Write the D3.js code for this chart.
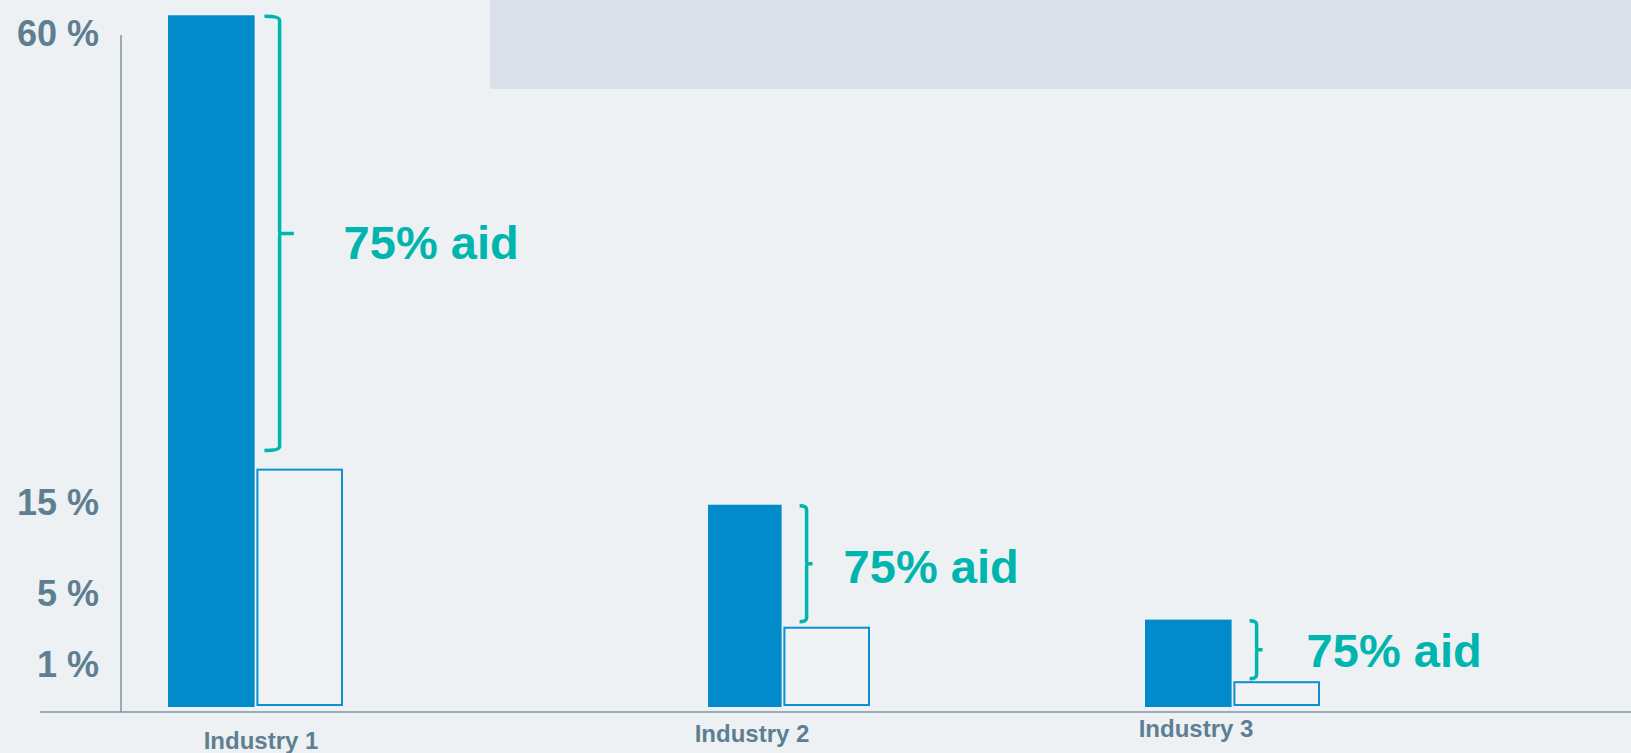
<!DOCTYPE html>
<html>
<head>
<meta charset="utf-8">
<script src="https://cdn.jsdelivr.net/npm/d3@7"></script>
<style>
  html, body { margin: 0; padding: 0; background: #edf1f4; overflow: hidden; }
  svg { display: block; font-family: "Liberation Sans", Arial, sans-serif; }
</style>
</head>
<body>
<svg width="1631" height="753"></svg>
<script>
// data
const categories = ["Industry 1", "Industry 2", "Industry 3"];
const series = ["without", "with"];
const withoutAid = [61.7, 14.7, 3.5];
const withAid = [18.2, 3.1, 0.6];
const aidLabels = ["75% aid", "75% aid", "75% aid"];
const tickValues = [1, 5, 15, 60];
const tickLabels = ["1 %", "5 %", "15 %", "60 %"];

const svg = d3.select("svg");

// grey box at the top right
svg.append("rect")
  .attr("x", 490).attr("y", 0)
  .attr("width", 1141).attr("height", 89)
  .attr("fill", "#dae1e8");

// the y axis is not linear: each tick sits on its own segment
const y = d3.scaleLinear()
  .domain([0, 1, 5, 15, 60])
  .range([707, 664, 593, 502, 33]);

// groups are not evenly spaced in the slide
const groupX = d3.scaleOrdinal(categories, [168, 695, 1145]);
const x1 = d3.scaleBand(series, [0, 175]).paddingInner(0.02);
const fullInset = d3.scaleOrdinal(categories, [0, 13, 0]);
const labelX = d3.scaleOrdinal(categories, [261, 752, 1196]);
const labelY = d3.scaleOrdinal(categories, [749, 742, 737]);
const aidDx = d3.scaleOrdinal(categories, [64, 37, 50]);

const rows = categories.map((c, i) => ({
  name: c, without: withoutAid[i], with: withAid[i], aid: aidLabels[i]
}));

// axes lines
svg.append("line")
  .attr("x1", 121).attr("x2", 121)
  .attr("y1", y(60) + 2).attr("y2", y(0) + 5)
  .attr("stroke", "#7d93a3").attr("stroke-width", 1.5);
svg.append("line")
  .attr("x1", 40).attr("x2", 1631)
  .attr("y1", y(0) + 5).attr("y2", y(0) + 5)
  .attr("stroke", "#7d93a3").attr("stroke-width", 1.5);

// tick labels
svg.append("g")
  .selectAll("text")
  .data(tickValues)
  .join("text")
  .attr("x", 99)
  .attr("y", (d) => y(d))
  .attr("dy", "0.36em")
  .attr("text-anchor", "end")
  .attr("font-size", 36)
  .attr("font-weight", "bold")
  .attr("fill", "#5e7f92")
  .text((d, i) => tickLabels[i]);

const group = svg.append("g")
  .selectAll("g")
  .data(rows)
  .join("g")
  .attr("transform", (d) => "translate(" + groupX(d.name) + ",0)");

// full bar
group.append("rect")
  .attr("x", (d) => x1("without") + fullInset(d.name))
  .attr("y", (d) => y(d.without))
  .attr("width", (d) => x1.bandwidth() - fullInset(d.name))
  .attr("height", (d) => y(0) - y(d.without))
  .attr("fill", "#028bcb");

// bar after aid
group.append("rect")
  .attr("x", x1("with") + 1)
  .attr("y", (d) => y(d.with) + 1)
  .attr("width", x1.bandwidth() - 2)
  .attr("height", (d) => y(0) - y(d.with) - 3)
  .attr("fill", "#f1f2f3")
  .attr("stroke", "#0d8fd3")
  .attr("stroke-width", 2);

// curly bracket from the full bar top down to the reduced bar
function bracket(d) {
  const x = x1("without") + x1.bandwidth() + 25;
  const top = y(d.without) + 1;
  const bot = y(d.with) - 0.04 * (y(d.with) - y(d.without));
  const h = bot - top;
  const hook = Math.min(16, Math.max(7, h * 0.035));
  const mid = (top + bot) / 2;
  const r = 4;
  return "M" + (x - hook) + "," + top +
    " Q" + x + "," + top + " " + x + "," + (top + r) +
    " L" + x + "," + (mid - 2) +
    " Q" + x + "," + mid + " " + (x + 3) + "," + mid +
    " L" + (x + hook - 1) + "," + mid +
    " M" + (x + 3) + "," + mid +
    " Q" + x + "," + mid + " " + x + "," + (mid + 2) +
    " L" + x + "," + (bot - r) +
    " Q" + x + "," + bot + " " + (x - hook) + "," + bot;
}

group.append("path")
  .attr("d", bracket)
  .attr("fill", "none")
  .attr("stroke", "#00b5ad")
  .attr("stroke-width", 3.5);

group.append("text")
  .attr("x", (d) => x1("without") + x1.bandwidth() + 25 + aidDx(d.name))
  .attr("y", (d) => (y(d.without) + y(d.with)) / 2)
  .attr("dy", "0.36em")
  .attr("font-size", 47)
  .attr("font-weight", "bold")
  .attr("fill", "#00b5ad")
  .text((d) => d.aid);

// category labels
svg.append("g")
  .selectAll("text")
  .data(categories)
  .join("text")
  .attr("x", (d) => labelX(d))
  .attr("y", (d) => labelY(d))
  .attr("text-anchor", "middle")
  .attr("font-size", 24)
  .attr("font-weight", "bold")
  .attr("fill", "#5e7f92")
  .text((d) => d);
</script>
</body>
</html>
